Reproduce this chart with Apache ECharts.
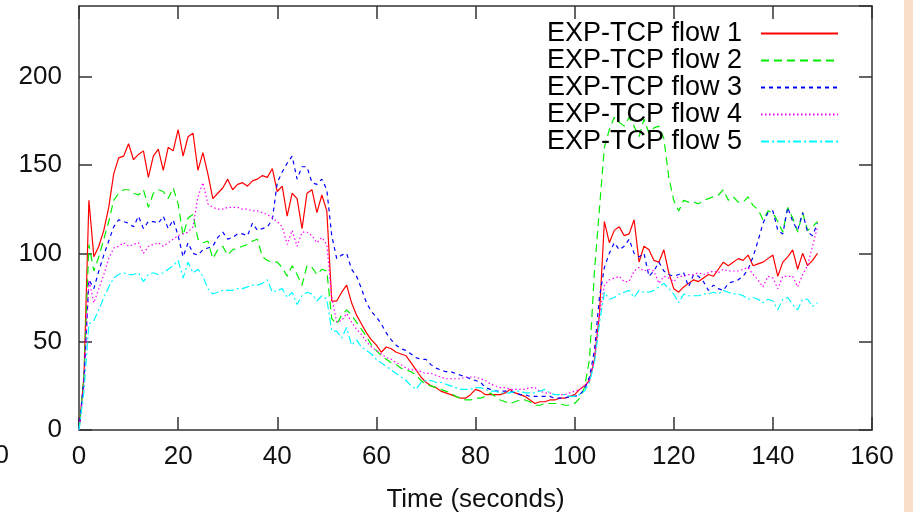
<!DOCTYPE html>
<html>
<head>
<meta charset="utf-8">
<script src="https://cdn.jsdelivr.net/npm/echarts@6/dist/echarts.min.js"></script>
<style>
  html, body { margin: 0; padding: 0; background: #fff; }
  #main { width: 913px; height: 512px; }
</style>
</head>
<body>
<div id="main"></div>
<script>
// sampled once per second, t = 0 .. 149
const flowNames = ["EXP-TCP flow 1", "EXP-TCP flow 2", "EXP-TCP flow 3", "EXP-TCP flow 4", "EXP-TCP flow 5"];

const flow1 = [
  0, 30, 130, 98, 104, 113, 126, 145, 154, 155,
  162, 153, 156, 158, 143, 155, 159, 147, 160, 158,
  170, 155, 166, 168, 147, 157, 145, 131, 134, 137,
  142, 136, 139, 140, 138, 141, 142, 144, 143, 148,
  135, 138, 121, 134, 131, 114, 134, 136, 123, 133,
  124, 73, 73, 78, 82, 72, 65, 60, 55, 51,
  48, 44, 47, 46, 44, 43, 42, 38, 34, 30,
  27, 25, 24, 22, 21, 20, 19, 18, 18, 20,
  23, 22, 20, 20, 20, 20, 21, 23, 21, 20,
  19, 17, 15, 16, 16, 17, 17, 18, 18, 19,
  20, 23, 25, 28, 40, 65, 118, 106, 113, 115,
  110, 111, 119, 95, 104, 102, 96, 95, 102, 89,
  80, 78, 81, 83, 85, 84, 86, 88, 87, 91,
  95, 93, 95, 97, 96, 99, 93, 94, 95, 97,
  99, 87, 95, 98, 102, 91, 100, 93, 96, 100
];

const flow2 = [
  0, 30, 105, 90, 98, 108, 118, 130, 134, 136,
  136, 134, 133, 136, 126, 134, 136, 135, 131, 137,
  128, 110, 120, 122, 108, 106, 107, 97, 102, 104,
  99, 102, 103, 104, 105, 107, 108, 98, 96, 95,
  95, 92, 87, 93, 88, 82, 93, 92, 88, 91,
  90, 63, 60, 65, 68, 65, 61, 57, 53, 48,
  45, 42, 40, 38, 37, 35, 34, 33, 31, 28,
  26, 25, 24, 23, 22, 21, 19, 18, 17, 17,
  18, 18, 19, 21, 19, 17, 16, 15, 16, 17,
  17, 16, 14, 14, 15, 15, 15, 15, 14, 14,
  15, 18, 24, 40, 90, 125, 160, 170, 177, 174,
  172, 177, 172, 166, 176, 168, 171, 172, 165, 143,
  130, 124, 130, 129, 129, 128, 130, 131, 132, 133,
  136, 130, 132, 129, 129, 132, 127, 125, 119, 124,
  123, 118, 112, 126, 120, 112, 123, 113, 115, 118
];

const flow3 = [
  0, 28, 85, 80, 90, 99, 107, 115, 119, 118,
  117, 115, 121, 114, 118, 118, 117, 121, 114, 119,
  110, 98, 106, 100, 99, 102, 103, 104, 109, 112,
  108, 109, 111, 111, 110, 117, 113, 114, 115, 119,
  140, 146, 151, 155, 142, 149, 149, 140, 139, 142,
  136, 110, 97, 99, 100, 91, 87, 80, 72, 67,
  64, 60, 55, 51, 48, 46, 45, 43, 41, 40,
  40, 37, 35, 34, 33, 33, 32, 31, 30, 29,
  28, 27, 24, 23, 22, 22, 22, 22, 21, 20,
  20, 19, 19, 19, 19, 19, 18, 18, 18, 19,
  19, 20, 23, 30, 45, 75, 92, 100, 106, 102,
  104, 108, 100, 98, 100, 87, 90, 95, 90, 88,
  87, 88, 89, 81, 88, 87, 84, 79, 82, 80,
  79, 83, 84, 85, 87, 91, 98, 107, 117, 123,
  124, 113, 111, 126, 118, 113, 123, 112, 110, 117
];

const flow4 = [
  0, 25, 85, 72, 80, 88, 97, 103, 104, 106,
  104, 105, 106, 100, 104, 105, 106, 104, 106, 108,
  110, 111, 112, 115, 132, 140, 128, 126, 125, 125,
  126, 126, 126, 125, 125, 124, 124, 123, 122, 120,
  118, 115, 105, 113, 104, 112, 112, 110, 106, 109,
  105, 75, 61, 62, 66, 61, 57, 54, 50, 47,
  45, 43, 41, 40, 38, 37, 35, 34, 34, 33,
  32, 32, 31, 30, 29, 29, 29, 29, 30, 30,
  30, 29, 28, 26, 25, 24, 24, 23, 23, 23,
  23, 24, 24, 22, 21, 21, 20, 20, 20, 21,
  22, 23, 25, 28, 40, 65, 82, 85, 86, 87,
  84, 84, 90, 92, 90, 91, 90, 83, 87, 86,
  84, 87, 87, 88, 88, 89, 88, 89, 90, 89,
  91, 90, 90, 90, 91, 92, 88, 85, 81, 87,
  86, 80, 87, 87, 87, 81, 88, 93, 104, 115
];

const flow5 = [
  0, 22, 60, 62, 68, 75, 81, 86, 88, 89,
  88, 88, 89, 84, 88, 89, 88, 89, 91, 93,
  96, 86, 95, 89, 91, 87, 80, 77, 78, 79,
  79, 79, 80, 80, 81, 82, 82, 83, 85, 78,
  79, 80, 75, 78, 71, 76, 78, 77, 73, 76,
  74, 56, 56, 52, 58, 48, 51, 47, 45, 43,
  40, 38, 36, 34, 32, 30, 28, 25, 23, 27,
  28, 28, 27, 27, 26, 25, 24, 23, 23, 23,
  24, 24, 23, 22, 22, 21, 21, 21, 22, 22,
  21, 21, 21, 22, 23, 21, 20, 20, 20, 19,
  19, 20, 22, 27, 38, 60, 78, 74, 75, 77,
  78, 79, 75, 79, 78, 78, 79, 81, 83, 80,
  77, 72, 77, 76, 76, 76, 77, 77, 78, 77,
  79, 78, 77, 77, 76, 74, 75, 74, 72, 74,
  73, 68, 74, 75, 71, 68, 74, 74, 70, 72
];

const xTicks = [0, 20, 40, 60, 80, 100, 120, 140, 160];
const yTicks = [0, 50, 100, 150, 200];

const time = flow1.map((v, i) => i);

const font = "'Liberation Sans', Arial, Helvetica, sans-serif";
const frameColor = "#333";

const styles = [
  { color: "#ff0000", type: "solid" },
  { color: "#00ee00", type: [8, 5] },
  { color: "#0000ff", type: [4, 4] },
  { color: "#ff00ff", type: [1.5, 2.5] },
  { color: "#00ffff", type: [8, 3, 2, 3] }
];

const flows = [flow1, flow2, flow3, flow4, flow5];

const series = flows.map((vals, k) => ({
  name: flowNames[k],
  type: "line",
  xAxisIndex: 0,
  yAxisIndex: 0,
  data: time.map((t, i) => [t, vals[i]]),
  symbol: "none",
  showSymbol: false,
  animation: false,
  lineStyle: { color: styles[k].color, width: 1.2, type: styles[k].type },
  itemStyle: { color: styles[k].color }
}));

const axisCommon = {
  type: "value",
  axisLine: { show: true, onZero: false, lineStyle: { color: frameColor, width: 1.5 } },
  axisTick: { show: true, inside: true, length: 13, lineStyle: { color: frameColor, width: 1.5 } },
  splitLine: { show: false }
};

const chart = echarts.init(document.getElementById("main"));
chart.setOption({
  backgroundColor: "#fff",
  animation: false,
  grid: { left: 79, right: 41, top: 6, bottom: 82, outerBoundsMode: "none" },
  legend: {
    orient: "vertical",
    right: 69,
    top: 15,
    align: "right",
    itemGap: 0,
    itemWidth: 77,
    itemHeight: 14,
    // the line icon of a line series carries a marker; hide it, keep the stroke
    itemStyle: { opacity: 0 },
    textStyle: { fontSize: 27, lineHeight: 27, color: "#000", fontFamily: font, padding: [0, 14, 0, 0] },
    data: flowNames
  },
  xAxis: [
    Object.assign({}, axisCommon, {
      position: "bottom",
      min: xTicks[0],
      max: xTicks[xTicks.length - 1],
      interval: 20,
      name: "Time (seconds)",
      nameLocation: "middle",
      nameGap: 57,
      nameTextStyle: { fontSize: 26, color: "#111", fontFamily: font },
      axisLabel: { fontSize: 26, color: "#111", fontFamily: font, margin: 14 }
    }),
    Object.assign({}, axisCommon, {
      position: "top",
      min: xTicks[0],
      max: xTicks[xTicks.length - 1],
      interval: 20,
      axisLabel: { show: false }
    })
  ],
  yAxis: [
    Object.assign({}, axisCommon, {
      position: "left",
      min: yTicks[0],
      max: 240,
      interval: 50,
      axisLabel: { fontSize: 26, color: "#111", fontFamily: font, margin: 17, showMaxLabel: false }
    }),
    Object.assign({}, axisCommon, {
      position: "right",
      min: yTicks[0],
      max: 240,
      interval: 50,
      axisLabel: { show: false }
    })
  ],
  graphic: [
    { type: "rect", left: 904, top: 0, shape: { width: 9, height: 512 }, style: { fill: "#f9dfca" }, silent: true },
    { type: "text", x: 9, y: 456, style: { text: "0", fontSize: 26, fontFamily: font, fill: "#111", align: "right", verticalAlign: "middle" }, silent: true }
  ],
  series: series
});
</script>
</body>
</html>
